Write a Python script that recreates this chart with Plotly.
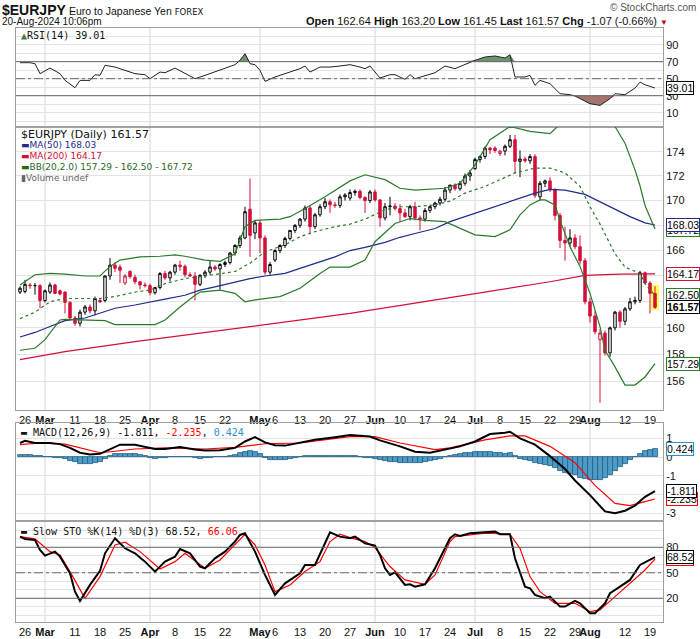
import math
import pandas as pd
import plotly.graph_objects as go

# trading sessions shown (forex, every weekday)
dates = pd.bdate_range("2024-02-23", "2024-08-20").strftime("%Y-%m-%d").tolist()

opens = [162.75, 162.80, 163.30, 163.25, 163.25, 162.10, 162.75, 163.30, 162.85, 162.75,
         161.95, 160.75, 160.35, 161.20, 161.60, 161.30, 162.10, 162.10, 164.00, 164.85,
         164.70, 163.45, 164.35, 163.90, 163.55, 163.30, 163.25, 162.70, 163.10, 164.20,
         163.85, 164.30, 164.85, 164.75, 164.10, 164.00, 163.35, 164.05, 164.30, 164.70,
         164.55, 164.90, 165.05, 165.80, 166.40, 167.00, 169.30, 167.40, 168.20, 167.00,
         164.30, 165.25, 166.00, 166.40, 166.95, 167.60, 168.00, 168.50, 169.40, 167.90,
         168.85, 169.50, 169.90, 169.65, 169.60, 170.30, 170.20, 170.65, 170.75, 170.25,
         170.00, 170.70, 170.05, 168.60, 169.50, 169.55, 169.35, 169.00, 168.70, 169.50,
         168.60, 168.50, 169.20, 169.50, 169.80, 170.10, 170.85, 171.25, 170.95, 171.40,
         172.00, 172.60, 173.35, 173.60, 174.30, 174.30, 173.85, 174.05, 174.45, 175.00,
         173.20, 173.40, 173.25, 173.60, 170.30, 171.40, 171.60, 170.90, 168.80, 166.80,
         166.60, 167.00, 166.30, 165.20, 162.00, 160.90, 159.10, 159.60, 158.10, 160.00,
         161.20, 160.50, 161.45, 162.00, 162.10, 164.25, 163.45, 162.64]
highs = [163.20, 163.70, 163.45, 163.45, 163.35, 162.95, 163.50, 163.40, 162.95, 162.80,
         162.05, 160.90, 161.40, 161.75, 161.80, 162.40, 162.30, 164.05, 165.40, 165.10,
         164.90, 164.15, 164.45, 164.10, 163.60, 163.50, 163.40, 163.15, 164.30, 164.40,
         164.40, 164.95, 165.20, 164.90, 164.30, 164.30, 164.15, 164.45, 165.25, 164.85,
         165.00, 165.20, 165.90, 166.50, 167.20, 169.50, 171.80, 168.40, 168.40, 167.20,
         165.10, 166.10, 166.50, 167.10, 167.60, 168.10, 168.60, 169.60, 169.60, 169.00,
         169.70, 170.20, 170.10, 169.90, 170.50, 170.60, 170.90, 170.90, 170.90, 170.35,
         170.85, 170.90, 170.10, 169.80, 170.30, 169.80, 169.70, 169.30, 169.65, 169.90,
         168.80, 169.40, 169.60, 169.90, 170.30, 171.10, 171.30, 171.40, 171.60, 172.20,
         172.50, 173.50, 173.70, 174.45, 174.40, 174.45, 174.15, 174.60, 175.40, 175.40,
         174.10, 173.60, 173.80, 173.80, 171.60, 171.70, 171.90, 171.00, 169.00, 167.90,
         167.70, 167.30, 167.20, 165.40, 162.30, 161.30, 159.90, 159.80, 160.10, 161.30,
         161.35, 161.60, 162.30, 162.40, 164.40, 164.35, 163.60, 163.20]
lows = [162.60, 162.65, 163.00, 162.55, 161.50, 161.95, 162.60, 162.60, 162.50, 161.10,
        160.70, 160.15, 160.10, 161.00, 161.10, 160.95, 161.90, 161.95, 163.70, 164.30,
        163.45, 163.30, 163.80, 163.35, 162.95, 163.10, 162.50, 162.55, 162.95, 163.70,
        163.60, 164.10, 164.40, 163.90, 163.95, 162.10, 163.20, 163.85, 164.10, 164.40,
        162.95, 164.70, 164.90, 165.60, 166.20, 166.90, 165.50, 166.90, 165.80, 164.10,
        164.10, 165.10, 165.80, 166.20, 166.80, 167.40, 167.80, 168.30, 167.30, 167.70,
        168.70, 169.30, 169.00, 169.40, 169.40, 170.00, 170.00, 170.40, 170.10, 169.00,
        169.80, 169.90, 167.90, 168.40, 168.80, 169.20, 168.30, 168.60, 168.40, 168.40,
        167.60, 168.30, 169.00, 169.30, 169.60, 169.90, 170.60, 170.80, 170.80, 171.20,
        171.60, 172.50, 173.10, 173.40, 173.80, 173.90, 173.65, 173.70, 174.30, 172.20,
        171.90, 173.10, 173.00, 170.20, 170.00, 171.10, 170.70, 168.40, 166.20, 165.20,
        166.30, 166.10, 164.90, 161.80, 160.40, 159.50, 154.40, 157.90, 157.80, 159.80,
        160.00, 160.20, 161.30, 161.80, 161.90, 163.40, 161.10, 161.45]
closes = [163.05, 163.35, 163.25, 163.25, 162.10, 162.85, 163.30, 162.65, 162.60, 161.95,
          160.75, 160.35, 161.20, 161.60, 161.30, 162.25, 162.00, 164.00, 164.85, 164.60,
          164.45, 164.00, 163.95, 163.55, 163.30, 163.25, 162.70, 163.10, 164.20, 163.85,
          164.30, 164.85, 164.75, 164.10, 164.00, 163.35, 164.05, 164.30, 164.70, 164.55,
          164.90, 165.05, 165.80, 166.40, 167.00, 169.10, 167.20, 168.20, 167.00, 164.30,
          164.90, 166.00, 166.40, 166.95, 167.60, 168.00, 168.50, 169.40, 167.90, 168.85,
          169.50, 169.90, 169.65, 169.60, 170.30, 170.45, 170.65, 170.75, 170.25, 170.00,
          170.70, 170.05, 168.60, 169.50, 169.55, 169.35, 169.00, 168.70, 169.50, 168.60,
          168.50, 169.20, 169.50, 169.80, 170.10, 170.85, 171.25, 170.95, 171.40, 172.00,
          172.25, 173.35, 173.60, 174.30, 174.15, 174.10, 174.05, 174.45, 175.00, 173.20,
          173.40, 173.25, 173.60, 170.40, 171.40, 171.60, 170.90, 168.80, 166.80, 166.60,
          167.00, 166.30, 165.20, 162.00, 160.90, 159.70, 159.60, 158.10, 160.00, 161.20,
          160.50, 161.45, 162.00, 162.10, 164.25, 163.45, 162.65, 161.57]

# overlays at selected sessions (index into dates)
ma50_idx = [0, 3, 6, 9, 13, 16, 19, 23, 26, 29, 33, 36, 39, 43, 46, 49, 53, 56, 59, 63,
            66, 69, 73, 76, 79, 83, 86, 89, 93, 96, 99, 103, 106, 109, 113, 116, 119, 122, 125, 127]
ma50 = [159.3, 159.65, 160.1, 160.55, 160.75, 161.15, 161.5, 161.75, 162.0, 162.2,
        162.5, 162.9, 163.15, 163.5, 163.8, 164.0, 164.2, 164.6, 165.0, 165.5,
        166.0, 166.25, 166.65, 167.05, 167.35, 167.75, 168.3, 168.7, 169.25, 169.65,
        170.05, 170.6, 170.9, 170.85, 170.5, 169.9, 169.35, 168.7, 168.2, 168.03]
ma200_idx = [0, 9, 23, 36, 49, 66, 79, 93, 106, 113, 120, 127]
ma200 = [157.6, 158.2, 158.95, 159.6, 160.25, 161.1, 161.9, 162.75, 163.55, 164.05, 164.15, 164.17]
bbu_idx = [0, 3, 6, 9, 13, 16, 18, 20, 24, 28, 31, 33, 37, 40, 43, 45, 47, 52, 54, 57,
           61, 66, 69, 73, 76, 79, 85, 88, 91, 94, 98, 102, 106, 108, 110, 113, 116, 119, 121, 123,
           124, 125, 127]
bb_upper = [163.3, 164.1, 164.2, 164.15, 164.0, 164.0, 164.75, 165.25, 165.5, 165.55,
            165.65, 165.55, 165.25, 165.15, 165.75, 167.9, 168.4, 168.5, 168.7, 169.35,
            170.3, 171.6, 172.1, 171.7, 171.0, 170.85, 171.0, 171.4, 172.9, 175.0,
            176.1, 175.7, 175.5, 176.3, 177.6, 179.0, 179.2, 176.1, 174.7, 172.5,
            171.2, 169.6, 167.72]
bbl_idx = [0, 3, 5, 7, 8, 9, 13, 17, 19, 23, 27, 29, 32, 35, 36, 40, 43, 45, 47, 52,
           56, 60, 62, 66, 69, 71, 75, 78, 81, 85, 88, 91, 95, 98, 100, 102, 104, 105, 107, 108,
           110, 112, 114, 116, 117, 119, 121, 123, 125, 127]
bb_lower = [158.3, 158.45, 159.1, 160.1, 160.6, 160.65, 160.6, 160.55, 160.25, 160.25,
            160.25, 160.6, 161.6, 162.5, 162.75, 162.9, 162.65, 162.0, 162.15, 162.4,
            163.05, 164.2, 164.7, 164.7, 165.25, 166.7, 168.15, 168.55, 168.4, 168.3,
            167.75, 167.25, 167.1, 167.65, 168.85, 169.65, 170.05, 170.05, 169.65, 168.4,
            166.3, 164.75, 162.65, 160.1, 158.3, 157.05, 155.7, 155.7, 156.3, 157.29]
bbm_idx = [0, 3, 6, 9, 16, 19, 23, 26, 29, 33, 36, 39, 43, 46, 49, 53, 56, 59, 63, 66,
           69, 73, 76, 79, 83, 86, 89, 93, 96, 99, 103, 106, 109, 112, 114, 116, 119, 121, 124, 125,
           127]
bb_mid = [160.7, 161.2, 162.0, 162.25, 162.25, 162.4, 162.75, 162.9, 163.4, 163.8,
          163.95, 164.1, 164.35, 165.0, 165.9, 166.45, 167.1, 167.5, 167.9, 168.1,
          168.5, 169.25, 169.5, 169.5, 169.65, 169.95, 170.6, 171.15, 171.7, 172.25,
          172.65, 172.65, 172.25, 171.15, 169.5, 168.1, 165.75, 164.7, 164.2, 163.4,
          162.5]

rsi_idx = [0, 2, 3, 4, 6, 8, 9, 11, 12, 14, 15, 16, 17, 19, 21, 23, 25, 26, 28, 29,
           31, 33, 35, 37, 39, 41, 43, 44, 45, 46, 47, 48, 49, 51, 53, 56, 57, 58, 60, 62,
           64, 66, 68, 69, 70, 72, 74, 75, 77, 78, 79, 81, 83, 85, 87, 91, 93, 95, 97, 98,
           99, 101, 102, 103, 104, 106, 108, 110, 111, 114, 116, 118, 119, 121, 123, 124, 125, 127]
rsi = [68.8, 68.8, 67.6, 55.9, 62.5, 55.9, 48.0, 39.4, 48.0, 48.0,
       54.7, 53.9, 65.7, 63.7, 59.8, 55.9, 54.7, 50.0, 57.8, 57.0,
       62.5, 56.7, 50.0, 53.9, 57.8, 62.5, 66.5, 71.6, 79.4, 67.6,
       66.5, 59.8, 46.9, 52.0, 55.9, 61.8, 64.9, 57.8, 63.7, 63.7,
       64.9, 66.5, 63.7, 61.8, 64.9, 50.8, 54.7, 54.7, 49.2, 54.7,
       50.0, 53.9, 57.0, 64.9, 61.8, 71.6, 75.5, 76.7, 74.3, 78.2,
       52.0, 52.0, 53.9, 42.2, 48.0, 44.1, 32.4, 31.2, 29.6, 20.6,
       18.6, 26.5, 32.4, 31.2, 39.0, 46.0, 42.9, 39.01]

macd_idx = [0, 1, 3, 6, 8, 10, 12, 14, 16, 18, 20, 23, 25, 27, 29, 32, 35, 37, 40, 43,
            45, 47, 49, 51, 53, 56, 59, 63, 66, 70, 72, 76, 79, 82, 85, 88, 91, 94, 97, 98,
            100, 103, 106, 109, 111, 114, 117, 119, 121, 123, 125, 127]
macd = [0.75, 0.87, 0.75, 0.75, 0.69, 0.49, 0.23, 0.14, 0.17, 0.43,
        0.66, 0.66, 0.54, 0.43, 0.43, 0.54, 0.40, 0.35, 0.36, 0.49,
        0.83, 1.06, 0.78, 0.63, 0.61, 0.78, 0.92, 1.06, 1.17, 1.09,
        0.89, 0.57, 0.28, 0.23, 0.40, 0.57, 0.83, 1.23, 1.30, 1.35,
        1.00, 0.66, 0.05, -0.64, -1.25, -2.03, -2.90, -2.99, -2.86, -2.59,
        -2.12, -1.811]
sig_idx = [0, 4, 9, 13, 16, 19, 23, 29, 37, 43, 49, 56, 66, 71, 76, 83, 86, 93, 98, 101,
           106, 111, 115, 119, 122, 125, 127]
signal = [0.66, 0.75, 0.69, 0.43, 0.23, 0.31, 0.43, 0.49, 0.43, 0.52,
          0.71, 0.75, 1.09, 1.09, 0.75, 0.40, 0.49, 0.92, 1.13, 1.13,
          0.57, -0.30, -1.51, -2.47, -2.59, -2.38, -2.235]
hist = [0.10, 0.12, 0.10, 0.08, 0.04, 0.02, -0.02, -0.04, -0.05, -0.10,
        -0.20, -0.28, -0.36, -0.38, -0.36, -0.30, -0.24, -0.12, 0.05, 0.15,
        0.18, 0.18, 0.17, 0.15, 0.10, 0.04, -0.05, -0.08, -0.07, -0.04,
        -0.02, 0.00, 0.02, 0.00, -0.02, -0.06, -0.08, -0.07, -0.05, -0.02,
        0.00, 0.02, 0.05, 0.10, 0.20, 0.28, 0.30, 0.28, 0.18, -0.05,
        -0.15, -0.17, -0.16, -0.14, -0.08, -0.03, 0.02, 0.06, 0.04, 0.06,
        0.08, 0.08, 0.06, 0.06, 0.07, 0.06, 0.05, 0.04, 0.00, -0.04,
        -0.05, -0.10, -0.18, -0.20, -0.24, -0.28, -0.30, -0.32, -0.33, -0.34,
        -0.32, -0.28, -0.22, -0.16, -0.08, -0.02, 0.05, 0.10, 0.15, 0.20,
        0.22, 0.25, 0.26, 0.26, 0.25, 0.22, 0.20, 0.18, 0.20, 0.05,
        -0.08, -0.17, -0.22, -0.30, -0.38, -0.45, -0.50, -0.60, -0.72, -0.85,
        -0.92, -0.98, -1.10, -1.16, -1.20, -1.22, -1.20, -1.12, -0.95, -0.75,
        -0.55, -0.35, -0.18, 0.00, 0.15, 0.30, 0.40, 0.424]

k_idx = [0, 1, 3, 4, 5, 7, 8, 10, 11, 12, 14, 16, 17, 19, 21, 23, 25, 27, 29, 31,
         32, 34, 36, 37, 39, 41, 43, 44, 45, 47, 49, 51, 53, 56, 57, 59, 61, 62, 64, 66,
         67, 69, 71, 72, 73, 74, 75, 77, 78, 79, 81, 83, 84, 86, 87, 88, 90, 93, 95, 96,
         98, 99, 101, 102, 103, 105, 106, 108, 109, 111, 112, 114, 115, 117, 118, 120, 122, 124, 127]
sto_k = [92.5, 89.8, 88.6, 76.9, 70.2, 74.9, 69.0, 49.4, 27.8, 16.9,
         35.7, 52.2, 72.9, 90.6, 78.8, 72.9, 63.1, 51.4, 63.1, 69.0,
         78.0, 72.9, 57.3, 55.3, 67.0, 74.9, 86.7, 94.5, 96.5, 74.9,
         47.5, 24.0, 37.6, 49.4, 59.2, 59.2, 84.7, 97.6, 92.5, 90.6,
         92.5, 84.7, 82.0, 71.0, 55.3, 47.5, 50.6, 35.7, 36.5, 33.7,
         36.5, 55.3, 67.0, 90.6, 95.3, 93.3, 96.5, 97.6, 98.4, 95.3,
         95.3, 67.0, 33.7, 31.8, 23.9, 20.0, 22.0, 10.2, 10.2, 16.9,
         14.1, 2.4, 2.4, 14.1, 25.9, 33.7, 41.6, 59.2, 68.52]
d_idx = [0, 3, 6, 8, 10, 13, 16, 19, 21, 24, 28, 31, 33, 37, 40, 43, 45, 47, 49, 51,
         54, 57, 60, 62, 64, 66, 69, 71, 74, 77, 81, 83, 86, 87, 93, 98, 100, 102, 104, 107,
         111, 114, 116, 119, 122, 125, 127]
sto_d = [92.5, 89.8, 74.9, 71.0, 51.4, 20.0, 45.5, 82.7, 85.9, 74.9,
         54.5, 63.1, 72.9, 55.3, 65.1, 82.7, 95.3, 82.7, 59.2, 27.8,
         35.7, 51.4, 63.1, 86.7, 95.3, 91.4, 86.7, 79.6, 57.3, 41.6,
         36.5, 47.5, 86.7, 92.5, 96.5, 95.3, 78.8, 45.5, 27.8, 14.1,
         14.1, 4.3, 6.3, 22.0, 37.6, 53.3, 66.06]

tick_dates = ["2024-02-26", "2024-03-01", "2024-03-11", "2024-03-18", "2024-03-25", "2024-04-01",
              "2024-04-08", "2024-04-15", "2024-04-22", "2024-05-01", "2024-05-06", "2024-05-13",
              "2024-05-20", "2024-05-27", "2024-06-03", "2024-06-10", "2024-06-17", "2024-06-24",
              "2024-07-01", "2024-07-08", "2024-07-15", "2024-07-22", "2024-07-29", "2024-08-01",
              "2024-08-12", "2024-08-19"]
tick_text = ["26", "<b>Mar</b>", "11", "18", "25", "<b>Apr</b>", "8", "15", "22", "<b>May</b>", "6", "13",
             "20", "27", "<b>Jun</b>", "10", "17", "24", "<b>Jul</b>", "8", "15", "22", "29", "<b>Aug</b>",
             "12", "19"]
month_starts = ["2024-03-01", "2024-04-01", "2024-05-01", "2024-06-03", "2024-07-01", "2024-08-01"]
price_ticks = [156, 158, 160, 162, 164, 166, 168, 170, 172, 174]

n = len(dates)
W, H = 700, 639
ML, MR, MT, MB = 16, 37, 28, 17
PW, PH = W - ML - MR, H - MT - MB


def py(y):
    return (H - MB - y) / PH


def px(x):
    return (x - ML) / PW


RED = "#d3103a"
GREEN = "#2a7a2a"
NAVY = "#1e2a8c"
GRID = "#e3e3e3"
FRAME = "#a0a0a0"
TXT = "Liberation Sans, Arial, sans-serif"

fig = go.Figure()

# yellow highlight behind the latest candle
fig.add_trace(go.Bar(x=[dates[-1]], base=[lows[-1] - 0.08], y=[highs[-1] - lows[-1] + 0.16],
                     width=1.5, marker=dict(color="#ffff55", line=dict(width=0)),
                     xaxis="x2", yaxis="y2", hoverinfo="skip"))

# candles: black when close >= previous close, red otherwise; hollow when close > open
black_i = [i for i in range(n) if i == 0 or closes[i] >= closes[i - 1]]
red_i = [i for i in range(n) if i > 0 and closes[i] < closes[i - 1]]
for idx, col in [(black_i, "black"), (red_i, RED)]:
    fig.add_trace(go.Candlestick(
        x=[dates[i] for i in idx], open=[opens[i] for i in idx], high=[highs[i] for i in idx],
        low=[lows[i] for i in idx], close=[closes[i] for i in idx],
        increasing=dict(line=dict(color=col, width=1), fillcolor="white"),
        decreasing=dict(line=dict(color=col, width=1), fillcolor=col),
        whiskerwidth=0, xaxis="x2", yaxis="y2", hoverinfo="skip"))


def line(idx, vals, color, width, xa, ya, dash=None):
    fig.add_trace(go.Scatter(x=[dates[i] for i in idx], y=vals, mode="lines",
                             line=dict(color=color, width=width, dash=dash),
                             xaxis=xa, yaxis=ya, hoverinfo="skip"))


line(ma200_idx, ma200, RED, 1.2, "x2", "y2")
line(ma50_idx, ma50, NAVY, 1.2, "x2", "y2")
line(bbu_idx, bb_upper, GREEN, 1.2, "x2", "y2")
line(bbl_idx, bb_lower, GREEN, 1.2, "x2", "y2")
line(bbm_idx, bb_mid, GREEN, 1.2, "x2", "y2", dash="dot")

# RSI with shaded zones
rsi_x = [dates[i] for i in rsi_idx]
for lvl, clip, col in [(70, max, "#6d956d"), (30, min, "#a5746c")]:
    fig.add_trace(go.Scatter(x=rsi_x, y=[lvl] * len(rsi_x), mode="lines", line=dict(width=0),
                             xaxis="x", yaxis="y", hoverinfo="skip"))
    fig.add_trace(go.Scatter(x=rsi_x, y=[clip(v, lvl) for v in rsi], mode="lines", line=dict(width=0),
                             fill="tonexty", fillcolor=col, xaxis="x", yaxis="y", hoverinfo="skip"))
line(rsi_idx, rsi, "#222222", 1, "x", "y")

# MACD
fig.add_trace(go.Bar(x=dates, y=hist, width=1,
                     marker=dict(color="#4f9bc8", line=dict(color="#1f5f82", width=0.8)),
                     xaxis="x3", yaxis="y3", hoverinfo="skip"))
line(sig_idx, signal, "#ff0000", 1.2, "x3", "y3")
line(macd_idx, macd, "black", 2, "x3", "y3")

# slow stochastic
line(d_idx, sto_d, "#ff0000", 1.2, "x4", "y4")
line(k_idx, sto_k, "black", 2, "x4", "y4")

# layout
xbase = dict(type="category", categoryorder="array", categoryarray=dates, range=[-0.8, 128.6],
             showgrid=False, zeroline=False, showline=True, mirror=True, linecolor=FRAME,
             ticks="", fixedrange=True, automargin=False, rangeslider=dict(visible=False))
xlab = dict(tickmode="array", tickvals=tick_dates, ticktext=tick_text, showticklabels=True,
            tickangle=0, tickfont=dict(family=TXT, size=11, color="#111"))
ybase = dict(side="right", showgrid=True, gridcolor=GRID, zeroline=False, showline=True, mirror=True,
             linecolor=FRAME, ticks="", fixedrange=True, automargin=False,
             tickfont=dict(family=TXT, size=11, color="#111"))
osc_ticks = list(range(0, 101, 10))

fig.update_layout(
    width=W, height=H, margin=dict(l=ML, r=MR, t=MT, b=MB, autoexpand=False),
    paper_bgcolor="white", plot_bgcolor="white", showlegend=False, bargap=0,
    xaxis=dict(xbase, anchor="y", showticklabels=False),
    xaxis2=dict(xbase, anchor="y2", **xlab),
    xaxis3=dict(xbase, anchor="y3", showticklabels=False),
    xaxis4=dict(xbase, anchor="y4", **xlab),
    yaxis=dict(ybase, anchor="x", domain=[py(127), py(28)], range=[-6.8, 109.6],
               tickmode="array", tickvals=osc_ticks,
               ticktext=[str(v) if v in (10, 30, 50, 70, 90) else "" for v in osc_ticks]),
    yaxis2=dict(ybase, anchor="x2", domain=[py(410), py(127)], type="log",
                range=[math.log10(153.86), math.log10(176.06)],
                tickmode="array", tickvals=price_ticks, ticktext=[str(v) for v in price_ticks]),
    yaxis3=dict(ybase, anchor="x3", domain=[py(521), py(423)], range=[-3.41, 1.816],
                tickmode="array", tickvals=[-3, -2, -1, 0, 1], ticktext=["-3", "-2", "-1", "0", "1"]),
    yaxis4=dict(ybase, anchor="x4", domain=[py(622), py(521)], range=[-7.9, 110.9],
                tickmode="array", tickvals=osc_ticks,
                ticktext=[str(v) if v in (20, 50, 80) else "" for v in osc_ticks]),
)

# month gridlines in every panel
for xa, ya in [("x", "y"), ("x2", "y2"), ("x3", "y3"), ("x4", "y4")]:
    for d in month_starts:
        fig.add_shape(type="line", xref=xa, x0=d, x1=d, yref=f"{ya} domain", y0=0, y1=1,
                      line=dict(color="#d6d6d6", width=1), layer="below")

# reference levels
for xa, ya, lvl, dash in [("x", "y", 70, "solid"), ("x", "y", 30, "solid"), ("x", "y", 50, "dashdot"),
                          ("x4", "y4", 80, "solid"), ("x4", "y4", 20, "solid"), ("x4", "y4", 50, "dashdot")]:
    fig.add_shape(type="line", xref=f"{xa} domain", x0=0, x1=1, yref=ya, y0=lvl, y1=lvl,
                  line=dict(color="#666666", width=1, dash=dash), layer="above")


def note(x, y, text, size=11, family=TXT, color="#111", xanchor="left"):
    fig.add_annotation(xref="paper", yref="paper", x=px(x), y=py(y), text=text, showarrow=False,
                       xanchor=xanchor, yanchor="middle", font=dict(family=family, size=size, color=color))


# header
note(0, 10, "<b>$EURJPY</b>", size=14)
note(67, 11, "Euro to Japanese Yen <span style='font-family:DejaVu Sans;font-size:8.5px'>FOREX</span>",
     size=10.5)
note(0, 21, "20-Aug-2024 10:06pm", size=10)
note(698, 8, "© StockCharts.com", size=10, color="#555", xanchor="right")
note(670, 21, "<b>Open</b> 162.64 <b>High</b> 163.20 <b>Low</b> 161.45 <b>Last</b> 161.57 "
     "<b>Chg</b> -1.07 (-0.66%) <span style='color:#cc0000;font-size:8px'>▼</span>",
     size=11, xanchor="right")

# panel legends
MONO = "DejaVu Sans Mono, monospace"
VERD = "DejaVu Sans, Verdana, sans-serif"
note(19, 35, "<span style='color:#4a7a4a'>▲</span>RSI(14) 39.01", size=10, family=MONO)
note(19, 134, "$EURJPY (Daily) 161.57", size=11, family=VERD)
note(19, 145, f"<span style='color:{NAVY}'>▬MA(50) 168.03</span>", size=9, family=VERD)
note(19, 156, f"<span style='color:{RED}'>▬MA(200) 164.17</span>", size=9, family=VERD)
note(19, 167, "<span style='color:#1f6a1f'>▬BB(20,2.0) 157.29 - 162.50 - 167.72</span>", size=9, family=VERD)
note(19, 178, "<span style='color:#666'>▮Volume undef</span>", size=9, family=VERD)
note(19, 432, "▬ MACD(12,26,9) -1.811, <span style='color:#ff0000'>-2.235</span>, "
     "<span style='color:#2f8fc8'>0.424</span>", size=10, family=MONO)
note(19, 531, "▬ Slow STO %K(14) %D(3) 68.52, <span style='color:#ff0000'>66.06</span>", size=10, family=MONO)


def tag(yref, y, text, color, bold=False):
    fig.add_annotation(xref="paper", x=1, xanchor="left", xshift=3, yref=yref, y=y, yanchor="middle",
                       text=f"<b>{text}</b>" if bold else text, showarrow=False,
                       font=dict(family=TXT, size=10.5, color="black"),
                       bgcolor="white", bordercolor=color, borderwidth=1, borderpad=0)


tag("y", 39.01, "39.01", "black")
tag("y2", math.log10(167.6), "167.72", GREEN)
tag("y2", math.log10(168.03), "168.03", NAVY)
tag("y2", math.log10(164.17), "164.17", RED)
tag("y2", math.log10(162.50), "162.50", GREEN)
tag("y2", math.log10(161.57), "161.57", "black", bold=True)
tag("y2", math.log10(157.29), "157.29", GREEN)
tag("y3", 0.424, "0.424", "#2f8fc8")
tag("y3", -2.235, "-2.235", "#ff0000")
tag("y3", -1.811, "-1.811", "black")
tag("y4", 66.06, "66.06", "#ff0000")
tag("y4", 68.52, "68.52", "black")

# the page body has a default 8px margin; drop it so the figure sits at the window origin
fig.write_html("out.html", config={"displayModeBar": False},
               post_script="document.body.style.margin='0px';")
